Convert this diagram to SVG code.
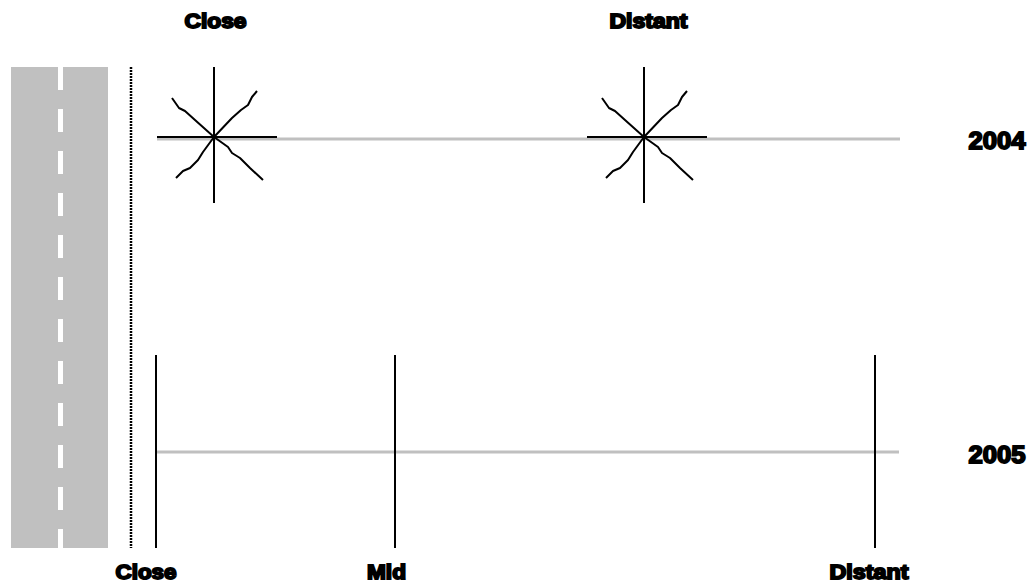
<svg xmlns="http://www.w3.org/2000/svg" width="1029" height="584" viewBox="0 0 1029 584">
<style>
.lbl{font-family:"Liberation Sans",Arial,sans-serif;font-weight:bold;fill:#000;stroke:#000;stroke-width:1.8;text-anchor:middle}
.t{font-size:20px}
.y{font-size:24px}
.ax{stroke:#000;stroke-width:2;fill:none}
.wig{stroke:#000;stroke-width:2;fill:none;stroke-linejoin:round}
.grid{stroke:#c0c0c0;stroke-width:3}
</style>
<defs>
<g id="star">
<line class="ax" x1="0" y1="-70" x2="0" y2="66"/>
<line class="ax" x1="-57" y1="0" x2="63" y2="0"/>
<polyline class="wig" points="-42,-39 -35,-29 -29,-26 -19,-17 0,0 14,10 18,16 26,21 36,31 49,43"/>
<polyline class="wig" points="43,-46 38,-40 34,-32 27,-27 18,-19 0,0 -11,15 -16,23 -24,31 -31,34 -38,41"/>
</g>
</defs>
<g id="road">
<rect x="11" y="67" width="97" height="481" fill="#c0c0c0"/>
<line x1="60.5" y1="67" x2="60.5" y2="548" stroke="#fff" stroke-width="5" stroke-dasharray="23 19"/>
</g>
<g id="edge">
<line x1="131" y1="67" x2="131" y2="548" stroke="#000" stroke-width="2.5" stroke-dasharray="2 1"/>
</g>
<g id="connectors">
<line class="grid" x1="157" y1="139" x2="900" y2="139"/>
<line class="grid" x1="157" y1="452" x2="899" y2="452"/>
<line class="ax" x1="156" y1="355" x2="156" y2="548"/>
<line class="ax" x1="395" y1="355" x2="395" y2="548"/>
<line class="ax" x1="875" y1="355" x2="875" y2="548"/>
</g>
<g id="star-close"><use href="#star" x="214" y="137"/></g>
<g id="star-distant"><use href="#star" x="644" y="137"/></g>
<g id="labels">
<text class="lbl t" x="215.5" y="28" textLength="62" lengthAdjust="spacingAndGlyphs">Close</text>
<text class="lbl t" x="648.5" y="28" textLength="78" lengthAdjust="spacingAndGlyphs">Distant</text>
<text class="lbl y" x="997" y="149" textLength="57" lengthAdjust="spacingAndGlyphs">2004</text>
<text class="lbl y" x="997" y="463" textLength="57" lengthAdjust="spacingAndGlyphs">2005</text>
<text class="lbl t" x="146" y="579" textLength="61" lengthAdjust="spacingAndGlyphs">Close</text>
<text class="lbl t" x="386.5" y="579" textLength="39" lengthAdjust="spacingAndGlyphs">Mid</text>
<text class="lbl t" x="869" y="579" textLength="79" lengthAdjust="spacingAndGlyphs">Distant</text>
</g>
</svg>
